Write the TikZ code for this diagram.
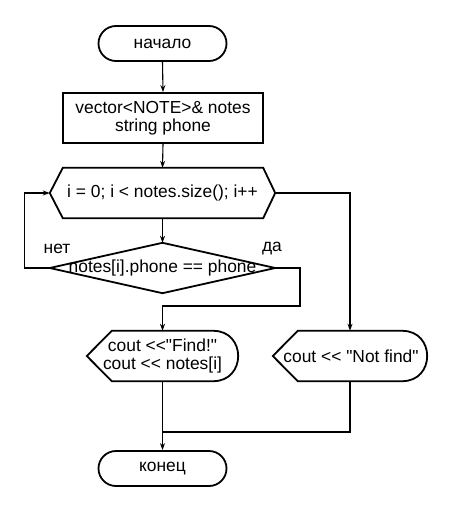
\documentclass[tikz,border=0pt]{standalone}
\usepackage{fontspec}
\setmainfont{Liberation Sans}[Ligatures=TeXOff]
\usetikzlibrary{calc,arrows.meta}
\begin{document}
\begin{tikzpicture}[x=1pt,y=-1pt,
  every node/.style={font=\fontsize{17.4}{18.5}\selectfont, inner sep=0pt, align=center},
  outline/.style={line width=1.8pt, line join=miter},
  term/.style={draw, line width=1.8pt, rounded corners=17.5pt, minimum width=128pt, minimum height=35pt},
  proc/.style={draw, line width=1.8pt, minimum width=200pt, minimum height=50pt},
  frame/.style={minimum height=50pt},
  conn/.style={line width=1.1pt},
  arr/.style={conn, -{Stealth[length=7pt,width=5pt]}},
]
\useasboundingbox (0,0) rectangle (450,513);
\fill[white] (0,0) rectangle (450,513);

\node[term] (start) at (162.5,43.5) {начало};
\node[proc] (vars) at (163,118) {vector<NOTE>\& notes\\string phone};

\node[frame, minimum width=225pt] (loop) at (162.5,193) {i = 0; i < notes.size(); i++};
\draw[outline] (loop.west) -- ($(loop.north west)+(13,0)$) -- ($(loop.north east)+(-12,0)$)
  -- (loop.east) -- ($(loop.south east)+(-12,0)$) -- ($(loop.south west)+(13,0)$) -- cycle;

\node[frame, minimum width=225pt] (cond) at (162.5,268) {notes[i].phone == phone};
\draw[outline] (cond.west) -- (cond.north) -- (cond.east) -- (cond.south) -- cycle;

\node[frame, minimum width=151pt] (find) at (162.5,356) {cout <<"Find!"\\cout << notes[i]};
\draw[outline] (find.west) -- ($(find.north west)+(25,0)$) -- ($(find.north east)+(-25,0)$)
  .. controls ($(find.north east)+(8.3,0)$) and ($(find.south east)+(8.3,0)$) .. ($(find.south east)+(-25,0)$)
  -- ($(find.south west)+(25,0)$) -- cycle;

\node[frame, minimum width=154pt] (nf) at (350,356) {\hspace*{2pt}cout << "Not find"};
\draw[outline] (nf.west) -- ($(nf.north west)+(25,0)$) -- ($(nf.north east)+(-25,0)$)
  .. controls ($(nf.north east)+(8.3,0)$) and ($(nf.south east)+(8.3,0)$) .. ($(nf.south east)+(-25,0)$)
  -- ($(nf.south west)+(25,0)$) -- cycle;

\node[term] (end) at (162.5,468.5) {конец};

\node (no) at (57,249) {нет};
\node (yes) at (272,249) {да};

\coordinate (j1) at (300,306);
\coordinate (m) at (162.5,432);

\draw[arr] (start.south) -- (vars.north);
\draw[arr] (vars.south) -- (loop.north);
\draw[arr] (loop.south) -- (cond.north);
\draw[arr] (cond.west) -- ++(-25,0) |- (loop.west);
\draw[arr] (cond.east) -| (j1) -| (find.north);
\draw[arr] (loop.east) -| (nf.north);
\draw[arr] (find.south) -- (end.north);
\draw[conn] (nf.south) |- (m);
\end{tikzpicture}
\end{document}
